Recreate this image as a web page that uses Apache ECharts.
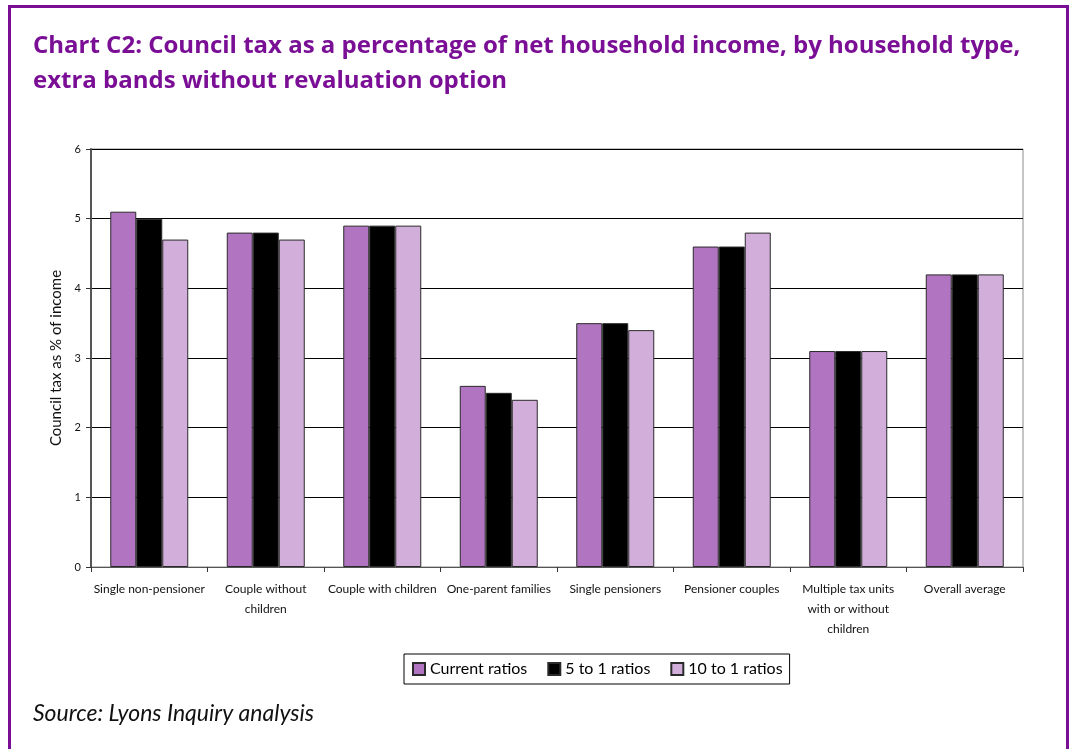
<!DOCTYPE html>
<html>
<head>
<meta charset="utf-8">
<script src="https://cdn.jsdelivr.net/npm/echarts@6/dist/echarts.min.js"></script>
<style>
  html, body { margin: 0; padding: 0; background: #fff; }
  #chart { width: 1070px; height: 749px; }
</style>
</head>
<body>
<div id="chart"></div>
<script>
// Household types along the x axis
const categories = [
  'Single non-pensioner',
  'Couple without\nchildren',
  'Couple with children',
  'One-parent families',
  'Single pensioners',
  'Pensioner couples',
  'Multiple tax units\nwith or without\nchildren',
  'Overall average'
];

// Council tax as % of net household income
const currentRatios = [5.1, 4.8, 4.9, 2.6, 3.5, 4.6, 3.1, 4.2];
const fiveToOne     = [5.0, 4.8, 4.9, 2.5, 3.5, 4.6, 3.1, 4.2];
const tenToOne      = [4.7, 4.7, 4.9, 2.4, 3.4, 4.8, 3.1, 4.2];

const yTicks = [0, 1, 2, 3, 4, 5, 6];

const FONT = 'Lato, "Open Sans", sans-serif';
const TITLE_FONT = '"Open Sans", Lato, sans-serif';
const PURPLE = '#7a0f96';

const chart = echarts.init(document.getElementById('chart'), null, { renderer: 'canvas' });

const barStyle = (color) => ({
  color: color,
  borderColor: '#2a2a2a',
  borderWidth: 1
});

chart.setOption({
  animation: false,
  backgroundColor: '#ffffff',
  title: {
    text: 'Chart C2: Council tax as a percentage of net household income, by household type,\nextra bands without revaluation option',
    left: 28,
    top: 24,
    textStyle: {
      fontFamily: TITLE_FONT,
      fontSize: 24,
      fontWeight: 'bold',
      color: PURPLE,
      lineHeight: 35
    }
  },
  graphic: [
    {
      type: 'polyline',
      shape: { points: [[9.5, 749], [9.5, 6.5], [1067.5, 6.5], [1067.5, 749]] },
      style: { stroke: PURPLE, lineWidth: 3, fill: null },
      silent: true
    },
    {
      type: 'text',
      left: 33,
      top: 702,
      style: {
        text: 'Source: Lyons Inquiry analysis',
        fontFamily: FONT,
        fontSize: 23,
        fontStyle: 'italic',
        fill: '#111'
      }
    }
  ],
  legend: {
    bottom: 65,
    left: 404,
    itemWidth: 12,
    itemHeight: 12,
    itemGap: 20,
    padding: [7, 7, 7, 8],
    borderColor: '#000',
    borderWidth: 1,
    textStyle: { fontFamily: FONT, fontSize: 16, color: '#000', padding: [0, 0, 0, 0] },
    data: [
      { name: 'Current ratios', icon: 'rect' },
      { name: '5 to 1 ratios', icon: 'rect' },
      { name: '10 to 1 ratios', icon: 'rect' }
    ]
  },
  grid: {
    left: 91,
    right: 47,
    top: 149,
    bottom: 182,
    show: true,
    borderColor: '#8c8c8c',
    borderWidth: 1
  },
  xAxis: {
    type: 'category',
    data: categories,
    axisLine: { lineStyle: { color: '#555', width: 1 } },
    axisTick: { show: true, alignWithLabel: false, length: 5, lineStyle: { color: '#333' } },
    axisLabel: {
      fontFamily: FONT,
      fontSize: 12,
      color: '#111',
      lineHeight: 20,
      margin: 12,
      interval: 0
    }
  },
  yAxis: {
    type: 'value',
    min: yTicks[0],
    max: yTicks[yTicks.length - 1],
    interval: 1,
    name: 'Council tax as % of income',
    nameLocation: 'middle',
    nameGap: 26,
    nameRotate: 90,
    nameTextStyle: { fontFamily: FONT, fontSize: 15, color: '#111' },
    axisLine: { show: true, lineStyle: { color: '#555', width: 2 } },
    axisTick: { show: true, length: 5, lineStyle: { color: '#333' } },
    axisLabel: {
      fontFamily: FONT,
      fontSize: 11,
      color: '#111',
      margin: 10,
      formatter: (v) => String(v)
    },
    splitLine: { show: true, lineStyle: { color: '#000', width: 1 } }
  },
  series: [
    {
      name: 'Current ratios',
      type: 'bar',
      data: currentRatios,
      barWidth: 26,
      barGap: '0%',
      itemStyle: barStyle('#b074c0')
    },
    {
      name: '5 to 1 ratios',
      type: 'bar',
      data: fiveToOne,
      barWidth: 26,
      barGap: '0%',
      itemStyle: barStyle('#000000')
    },
    {
      name: '10 to 1 ratios',
      type: 'bar',
      data: tenToOne,
      barWidth: 26,
      barGap: '0%',
      itemStyle: barStyle('#d2aedb')
    }
  ]
});
</script>
</body>
</html>
